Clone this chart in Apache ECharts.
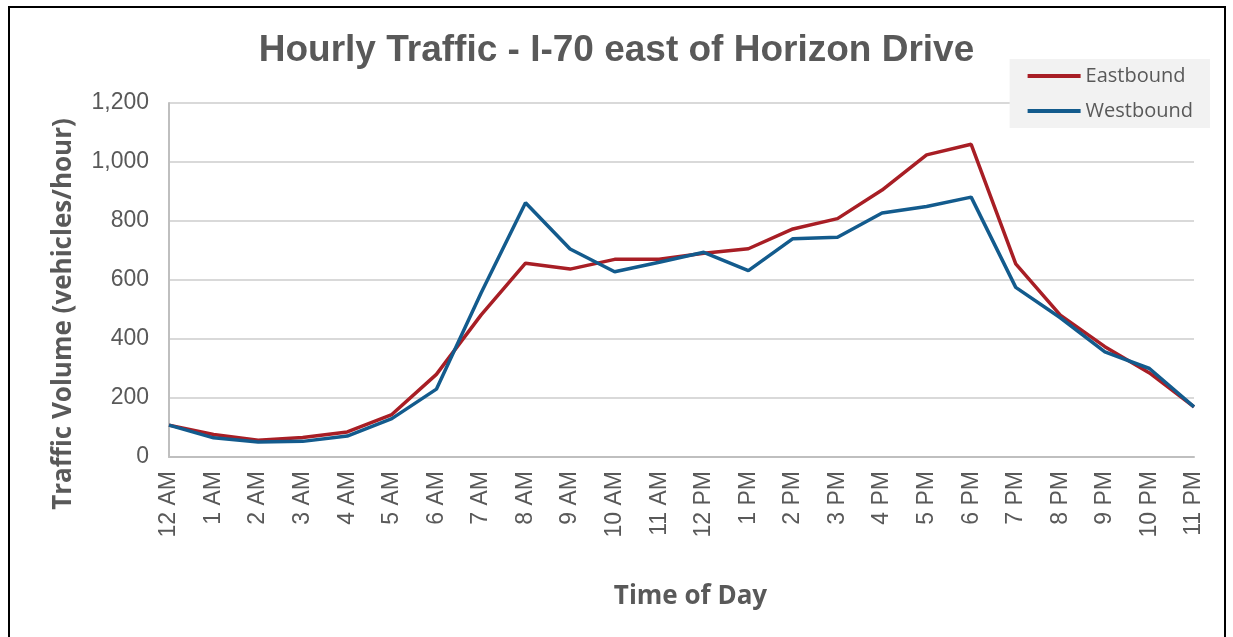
<!DOCTYPE html>
<html>
<head>
<meta charset="utf-8">
<script src="https://cdn.jsdelivr.net/npm/echarts@6/dist/echarts.min.js"></script>
<style>
  html, body { margin: 0; padding: 0; background: #fff; }
  #frame { position: absolute; left: 8px; top: 6px; width: 1218px; height: 660px; border: 2px solid #000; box-sizing: border-box; }
  #main { position: absolute; left: 0; top: 0; width: 1233px; height: 637px; }
</style>
</head>
<body>
<div id="frame"></div>
<div id="main"></div>
<script>
// 时段
const hours = ['12 AM', '1 AM', '2 AM', '3 AM', '4 AM', '5 AM', '6 AM', '7 AM', '8 AM', '9 AM', '10 AM', '11 AM',
    '12 PM', '1 PM', '2 PM', '3 PM', '4 PM', '5 PM', '6 PM', '7 PM', '8 PM', '9 PM', '10 PM', '11 PM'];
const eastbound = [108, 76, 57, 66, 85, 144, 280, 481, 657, 637, 670, 670,
    691, 706, 773, 808, 905, 1024, 1060, 655, 481, 374, 285, 170];
const westbound = [108, 65, 51, 53, 71, 130, 230, 555, 862, 705, 628, 660,
    694, 632, 740, 745, 827, 849, 881, 575, 472, 356, 300, 170];
const yTicks = { min: 0, max: 1200, interval: 200 };

const grey = '#595959';
const chart = echarts.init(document.getElementById('main'));

chart.setOption({
    animation: false,
    title: {
        text: 'Hourly Traffic - I-70 east of Horizon Drive',
        left: 'center',
        top: 27,
        textStyle: { fontFamily: 'Liberation Sans, Arial', fontSize: 37, fontWeight: 'bold', color: grey }
    },
    legend: {
        orient: 'vertical',
        right: 23,
        top: 59,
        backgroundColor: '#f2f2f2',
        padding: [7, 17, 7, 18],
        itemWidth: 53,
        itemHeight: 4,
        itemGap: 15,
        icon: 'rect',
        textStyle: { fontFamily: 'Open Sans', fontSize: 20, color: grey },
        data: ['Eastbound', 'Westbound']
    },
    grid: { left: 169, right: 39, top: 103, bottom: 180 },
    xAxis: {
        type: 'category',
        data: hours,
        boundaryGap: false,
        name: 'Time of Day',
        nameLocation: 'middle',
        nameGap: 127,
        nameTextStyle: { fontFamily: 'Open Sans', fontSize: 26, fontWeight: 'bold', color: grey, padding: [0, 0, 0, 18] },
        axisLine: { lineStyle: { color: '#bfbfbf', width: 2 } },
        axisTick: { show: false },
        axisLabel: {
            rotate: 90,
            margin: 14,
            interval: 0,
            fontFamily: 'Liberation Sans, Arial',
            fontSize: 23,
            color: grey
        }
    },
    yAxis: {
        type: 'value',
        min: yTicks.min,
        max: yTicks.max,
        interval: yTicks.interval,
        name: 'Traffic Volume (vehicles/hour)',
        nameLocation: 'middle',
        nameGap: 92,
        nameTextStyle: { fontFamily: 'Open Sans', fontSize: 26, fontWeight: 'bold', color: grey, padding: [0, 68, 0, 0] },
        axisLine: { show: true, lineStyle: { color: '#bfbfbf', width: 2 } },
        axisTick: { show: false },
        splitLine: { lineStyle: { color: '#d9d9d9', width: 2 } },
        axisLabel: {
            margin: 20,
            fontFamily: 'Liberation Sans, Arial',
            fontSize: 23,
            color: grey,
            formatter: v => v.toLocaleString('en-US')
        }
    },
    series: [
        {
            name: 'Eastbound',
            type: 'line',
            data: eastbound,
            symbol: 'none',
            color: '#a81e25',
            lineStyle: { width: 3.5 }
        },
        {
            name: 'Westbound',
            type: 'line',
            data: westbound,
            symbol: 'none',
            color: '#135b8d',
            lineStyle: { width: 3.5 }
        }
    ]
});
</script>
</body>
</html>
